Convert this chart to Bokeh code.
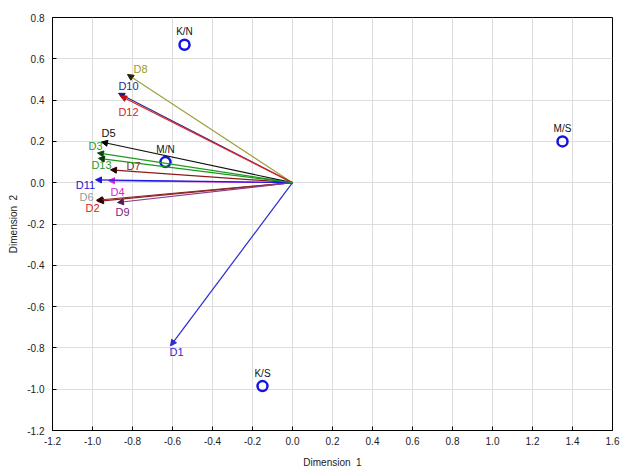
from bokeh.plotting import figure
from bokeh.models import Arrow, NormalHead, ColumnDataSource, NumeralTickFormatter, FixedTicker, Range1d
from bokeh.core.properties import value
from bokeh.embed import file_html
from bokeh.resources import INLINE

# Variable vectors (arrow tips)
var_names = ["D1", "D2", "D3", "D4", "D5", "D6", "D7", "D8", "D9", "D10", "D11", "D12", "D13"]
var_x = [-0.61, -0.975, -0.975, -0.92, -0.955, -0.98, -0.91, -0.825, -0.875, -0.87, -0.985, -0.86, -0.97]
var_y = [-0.79, -0.09, 0.144, 0.01, 0.197, -0.085, 0.0625, 0.524, -0.096, 0.433, 0.014, 0.42, 0.118]
line_colors = ["#2a2ad0", "#9a1f1f", "#1f9a1f", "#e020e0", "#111111", "#8a2a2a", "#8b1a1a",
               "#a0a040", "#8a3a8a", "#2a2a90", "#1a1ae0", "#e02020", "#1a9a1a"]
head_colors = ["#2a2ad0", "#330000", "#0a4a0a", "#e020e0", "#000000", "#330000", "#220000",
               "#222200", "#551a55", "#1a1a70", "#1a1ae0", "#c01010", "#0a3a0a"]
label_colors = ["#2a2ad0", "#e02020", "#2a9a2a", "#e020e0", "#111111", "#999999", "#8b2020",
                "#9a9a2a", "#802080", "#2a2a8a", "#2020d0", "#e02020", "#2a9a2a"]
# label offsets in screen pixels (styling)
lab_dx = [6, -5, -2, 9, 7, -10, 23, 13, 5, 10, -10, 8, 3]
lab_dy = [6, 7, -7, 11, -9, -3, -4, -5, 9, -7, 5, 16, 7]

# Category points
pt_names = ["K/N", "M/S", "M/N", "K/S"]
pt_x = [-0.54, 1.35, -0.635, -0.15]
pt_y = [0.668, 0.20, 0.10, -0.985]

x_ticks = [-1.2, -1.0, -0.8, -0.6, -0.4, -0.2, 0.0, 0.2, 0.4, 0.6, 0.8, 1.0, 1.2, 1.4, 1.6]
y_ticks = [-1.2, -1.0, -0.8, -0.6, -0.4, -0.2, 0.0, 0.2, 0.4, 0.6, 0.8]

FONT = "Liberation Sans"

p = figure(width=620, height=470, output_backend="svg", toolbar_location=None,
           x_range=Range1d(-1.2, 1.6), y_range=Range1d(-1.2, 0.8),
           min_border_left=52, min_border_right=8, min_border_top=17, min_border_bottom=36)

p.outline_line_color = "black"
p.outline_line_width = 1
p.xgrid.grid_line_color = "#dddddd"
p.ygrid.grid_line_color = "#dddddd"
p.xgrid.grid_line_width = 1
p.ygrid.grid_line_width = 1

for ax, ticks, lab in ((p.xaxis[0], x_ticks, "Dimension\u00a0 1"), (p.yaxis[0], y_ticks, "Dimension\u00a0 2")):
    ax.ticker = FixedTicker(ticks=ticks)
    ax.formatter = NumeralTickFormatter(format="0.0")
    ax.axis_label = lab
    ax.axis_label_text_font = FONT
    ax.axis_label_text_font_size = "10px"
    ax.axis_label_text_font_style = "normal"
    ax.axis_label_text_color = "#222222"
    ax.major_label_text_font = FONT
    ax.major_label_text_font_size = "10px"
    ax.major_label_text_color = "#222222"
    ax.major_tick_in = 4
    ax.major_tick_out = 0
    ax.minor_tick_in = 0
    ax.minor_tick_out = 0
    ax.axis_line_color = "black"
    ax.major_tick_line_color = "black"
p.xaxis[0].axis_label_standoff = 9
p.yaxis[0].axis_label_standoff = 5
p.xaxis[0].major_label_standoff = 6
p.yaxis[0].major_label_standoff = 8

# arrows
for i in range(len(var_names)):
    c = line_colors[i]
    h = head_colors[i]
    p.add_layout(Arrow(x_start=0, y_start=0, x_end=var_x[i], y_end=var_y[i],
                       line_color=c, line_width=1.2,
                       end=NormalHead(size=6, fill_color=h, line_color=h, line_width=1)))

vsrc = ColumnDataSource(dict(x=var_x, y=var_y, t=var_names, c=label_colors, dx=lab_dx, dy=lab_dy))
p.text(x="x", y="y", text="t", text_color="c", x_offset="dx", y_offset="dy", source=vsrc,
       text_align="center", text_baseline="middle", text_font=value(FONT), text_font_size="11px")

psrc = ColumnDataSource(dict(x=pt_x, y=pt_y, t=pt_names))
p.scatter(x="x", y="y", source=psrc, size=10, fill_color=None, line_color="#1414e6", line_width=2.5)
p.text(x="x", y="y", text="t", source=psrc, y_offset=-13, text_align="center", text_baseline="middle",
       text_font=value(FONT), text_font_size="10px", text_color="#111111")

open("out.html", "w").write(file_html(p, INLINE))
